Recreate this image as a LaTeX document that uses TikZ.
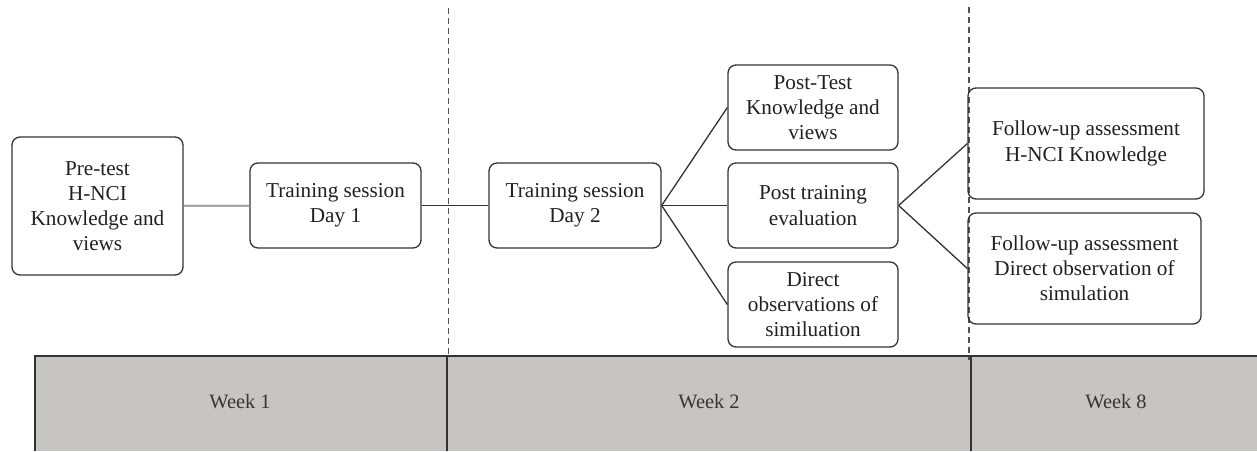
\documentclass[tikz,border=0pt]{standalone}
\usepackage{fontspec}
\setmainfont{Liberation Serif}
\usepackage{xcolor}
\usetikzlibrary{positioning,calc}
\definecolor{lineGray}{HTML}{333333}
\definecolor{linkGray}{HTML}{A6A6A6}
\definecolor{bandGray}{HTML}{C6C5C3}
\definecolor{textGray}{HTML}{231F20}

\begin{document}
\begin{tikzpicture}[
  x=0.5pt, y=-0.5pt,
  font=\fontsize{10.6}{12.6}\selectfont,
  stage/.style={draw=lineGray, line width=0.65pt, rounded corners=4pt, align=center,
    text=textGray, inner sep=0pt, minimum width=#1},
  link/.style={draw=lineGray, line width=0.65pt},
  weeklab/.style={text=textGray!90, font=\fontsize{10.2}{12}\selectfont},
  divider/.style={draw=lineGray!85, line width=0.7pt, dash pattern=on 3pt off 2pt}
]
\useasboundingbox (0,0) rectangle (1257,451);
% week band
\fill[bandGray] (35,356) rectangle (1257,451);
\draw[lineGray, line width=0.65pt] (35,451) -- (35,356) -- (1257,356);
\draw[lineGray, line width=0.65pt] (447,356) -- (447,451);
\draw[lineGray, line width=0.65pt] (971,356) -- (971,451);
\node[weeklab] (w1) at (240,402) {Week 1};
\node[weeklab] (w2) at (709,402) {Week 2};
\node[weeklab] (w8) at (1116,402) {Week 8};
% week boundaries
\draw[divider] (448.5,8) -- (448.5,356);
\draw[divider] (969,7) -- (969,360);
% stages
\node[stage=85.5pt, minimum height=69pt] (pre) at (97.5,206) {Pre-test\\H-NCI\\Knowledge and\\views};
\node[stage=85.5pt, minimum height=42.5pt] (day1) at (335.5,205.5) {Training session\\Day 1};
\node[stage=86pt, minimum height=42.5pt] (day2) at (575,205.5) {Training session\\Day 2};
\node[stage=85pt, minimum height=42.5pt] (posttest) at (813,107.5) {Post-Test\\Knowledge and\\views};
\node[stage=85pt, minimum height=42.5pt] (posteval) at (813,205.5) {Post training\\evaluation};
\node[stage=85pt, minimum height=42.5pt] (direct) at (813,304.5) {Direct\\observations of\\similuation};
\node[stage=118pt, minimum height=55.5pt] (fuknow) at (1086,143.5) {Follow-up assessment\\H-NCI Knowledge};
\node[stage=116.5pt, minimum height=55.5pt] (fusim) at (1084.5,268.5) {Follow-up assessment\\Direct observation of\\simulation};
% connectors
\draw[linkGray, line width=1.1pt] (pre) -- (day1);
\draw[link] (day1) -- (day2);
\draw[link] (day2.east) -- (posttest.west);
\draw[link] (day2.east) -- (posteval.west);
\draw[link] (day2.east) -- (direct.west);
\draw[link] (posteval.east) -- (fuknow.west);
\draw[link] (posteval.east) -- (fusim.west);
\end{tikzpicture}
\end{document}
